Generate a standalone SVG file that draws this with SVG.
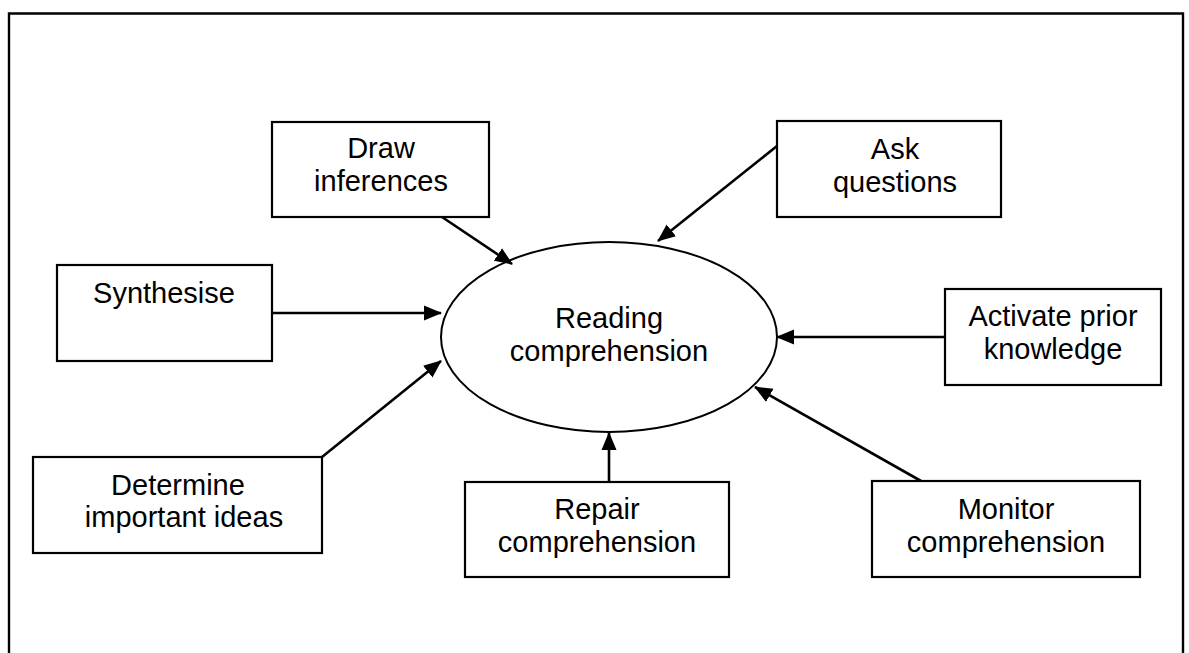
<svg xmlns="http://www.w3.org/2000/svg" width="1189" height="653" viewBox="0 0 1189 653">
<style>
.box{fill:#fff;stroke:#000;stroke-width:2.2}
.t{font-family:"Liberation Sans",Arial,sans-serif;font-size:29px;fill:#000;text-anchor:middle}
.c{stroke:#000;stroke-width:2.6;fill:none;marker-end:url(#ah)}
</style>
<defs>
<marker id="ah" markerUnits="userSpaceOnUse" markerWidth="20" markerHeight="16" refX="17" refY="8" orient="auto">
<path d="M0,0.5 L18,8 L0,15.5 Z" fill="#000"/>
</marker>
</defs>
<rect x="0" y="0" width="1189" height="653" fill="#fff"/>
<path d="M9,660 L9,13.5 L1183,13.5 L1183,660" fill="none" stroke="#000" stroke-width="2.4"/>
<g id="center">
<ellipse cx="609" cy="337" rx="168" ry="95" fill="#fff" stroke="#000" stroke-width="2"/>
<text class="t" x="609" y="328">Reading</text>
<text class="t" x="609" y="361">comprehension</text>
</g>
<g id="connectors">
<line class="c" x1="442" y1="217" x2="512" y2="264"/>
<line class="c" x1="777" y1="146" x2="658" y2="241"/>
<line class="c" x1="272" y1="313" x2="441" y2="313"/>
<line class="c" x1="322" y1="457" x2="441" y2="361"/>
<line class="c" x1="609" y1="482" x2="609" y2="433"/>
<line class="c" x1="921" y1="481" x2="755" y2="387"/>
<line class="c" x1="945" y1="337" x2="777" y2="337"/>
</g>
<g id="draw-inferences">
<rect class="box" x="272" y="122" width="217" height="95"/>
<text class="t" x="381" y="158">Draw</text>
<text class="t" x="381" y="191">inferences</text>
</g>
<g id="ask-questions">
<rect class="box" x="777" y="121" width="224" height="96"/>
<text class="t" x="895" y="159">Ask</text>
<text class="t" x="895" y="192">questions</text>
</g>
<g id="synthesise">
<rect class="box" x="57" y="265" width="215" height="96"/>
<text class="t" x="164" y="303">Synthesise</text>
</g>
<g id="activate-prior-knowledge">
<rect class="box" x="945" y="289" width="216" height="96"/>
<text class="t" x="1053" y="326">Activate prior</text>
<text class="t" x="1053" y="359">knowledge</text>
</g>
<g id="determine-important-ideas">
<rect class="box" x="33" y="457" width="289" height="96"/>
<text class="t" x="178" y="495">Determine</text>
<text class="t" x="184" y="527">important ideas</text>
</g>
<g id="repair-comprehension">
<rect class="box" x="465" y="482" width="264" height="95"/>
<text class="t" x="597" y="519">Repair</text>
<text class="t" x="597" y="552">comprehension</text>
</g>
<g id="monitor-comprehension">
<rect class="box" x="872" y="481" width="268" height="96"/>
<text class="t" x="1006" y="519">Monitor</text>
<text class="t" x="1006" y="552">comprehension</text>
</g>
</svg>
